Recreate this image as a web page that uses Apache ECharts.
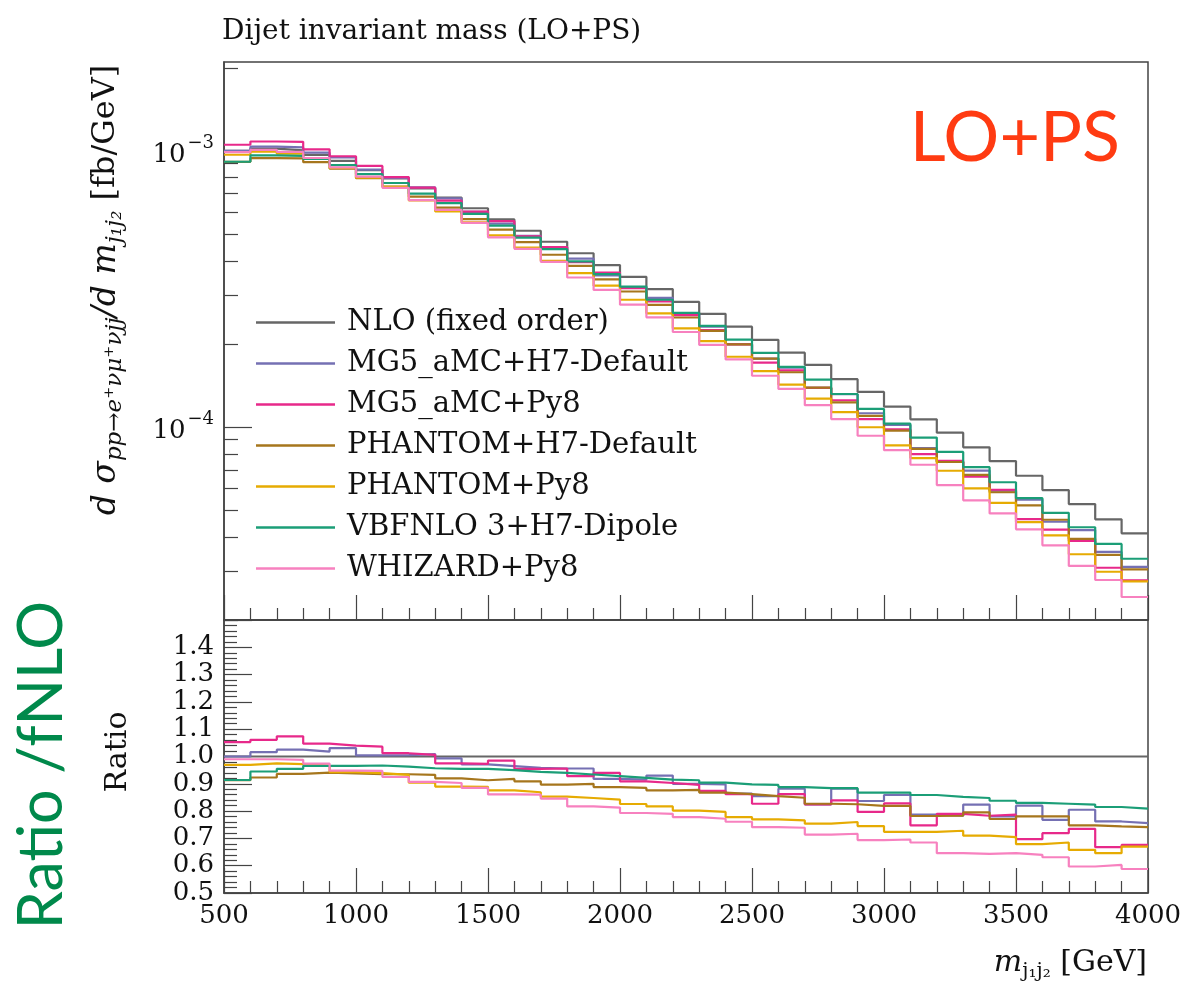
<!DOCTYPE html>
<html>
<head>
<meta charset="utf-8">
<title>Dijet invariant mass (LO+PS)</title>
<script src="https://cdn.jsdelivr.net/npm/echarts@6/dist/echarts.min.js"></script>
<style>
  html, body { margin: 0; padding: 0; background: #fff; }
  #chart { width: 1187px; height: 989px; }
</style>
</head>
<body>
<div id="chart"></div>
<script>
// 100 GeV bins, low edges
const binLow = [500, 600, 700, 800, 900, 1000, 1100, 1200, 1300, 1400,
  1500, 1600, 1700, 1800, 1900, 2000, 2100, 2200, 2300, 2400,
  2500, 2600, 2700, 2800, 2900, 3000, 3100, 3200, 3300, 3400,
  3500, 3600, 3700, 3800, 3900]
const binEnd = 4000

// NLO fixed order, fb/GeV (upper panel)
const nlo = [1.00e-3, 1.02e-3, 1.005e-3, 9.68e-4, 9.20e-4, 8.52e-4, 7.95e-4, 7.32e-4, 6.78e-4, 6.20e-4,
  5.65e-4, 5.14e-4, 4.69e-4, 4.26e-4, 3.86e-4, 3.50e-4, 3.16e-4, 2.84e-4, 2.57e-4, 2.31e-4,
  2.07e-4, 1.86e-4, 1.68e-4, 1.49e-4, 1.34e-4, 1.185e-4, 1.066e-4, 9.54e-5, 8.44e-5, 7.53e-5,
  6.66e-5, 5.91e-5, 5.26e-5, 4.63e-5, 4.12e-5]

// ratio to fixed-order NLO (lower panel)
const ratioMgH7 = [1.000, 1.016, 1.025, 1.018, 1.031, 1.004, 1.005, 1.009, 0.993, 0.971,
  0.965, 0.958, 0.956, 0.956, 0.918, 0.915, 0.930, 0.900, 0.898, 0.864,
  0.855, 0.882, 0.825, 0.882, 0.837, 0.859, 0.787, 0.783, 0.824, 0.781,
  0.820, 0.768, 0.805, 0.762, 0.756]
const ratioMgPy8 = [1.053, 1.061, 1.074, 1.047, 1.040, 1.036, 1.012, 1.006, 0.975, 0.973,
  0.985, 0.955, 0.956, 0.928, 0.940, 0.909, 0.903, 0.896, 0.874, 0.862,
  0.827, 0.862, 0.825, 0.839, 0.797, 0.828, 0.748, 0.790, 0.783, 0.787,
  0.697, 0.719, 0.735, 0.668, 0.676]
const ratioPhH7 = [0.913, 0.923, 0.936, 0.941, 0.938, 0.935, 0.935, 0.933, 0.920, 0.913,
  0.918, 0.909, 0.897, 0.900, 0.888, 0.885, 0.876, 0.878, 0.868, 0.862,
  0.855, 0.849, 0.827, 0.825, 0.819, 0.819, 0.782, 0.783, 0.795, 0.771,
  0.781, 0.781, 0.748, 0.744, 0.741]
const ratioPhPy8 = [0.969, 0.975, 0.972, 0.967, 0.943, 0.939, 0.933, 0.904, 0.890, 0.889,
  0.876, 0.869, 0.853, 0.848, 0.842, 0.826, 0.817, 0.802, 0.797, 0.778,
  0.770, 0.766, 0.754, 0.760, 0.745, 0.724, 0.724, 0.728, 0.710, 0.705,
  0.679, 0.685, 0.658, 0.646, 0.670]
const ratioVbf = [0.914, 0.945, 0.955, 0.966, 0.966, 0.967, 0.963, 0.957, 0.955, 0.955,
  0.950, 0.944, 0.940, 0.934, 0.928, 0.922, 0.915, 0.913, 0.904, 0.898,
  0.896, 0.888, 0.884, 0.884, 0.868, 0.868, 0.859, 0.852, 0.848, 0.838,
  0.830, 0.827, 0.824, 0.815, 0.809]
const ratioWhz = [0.990, 0.990, 0.988, 0.974, 0.948, 0.947, 0.925, 0.907, 0.903, 0.885,
  0.861, 0.860, 0.846, 0.817, 0.813, 0.793, 0.790, 0.778, 0.772, 0.761,
  0.741, 0.739, 0.714, 0.717, 0.694, 0.696, 0.685, 0.646, 0.643, 0.646,
  0.640, 0.631, 0.597, 0.603, 0.588]
const ratioNlo = nlo.map(() => 1)

const names = ['NLO (fixed order)', 'MG5_aMC+H7-Default', 'MG5_aMC+Py8', 'PHANTOM+H7-Default',
  'PHANTOM+Py8', 'VBFNLO 3+H7-Dipole', 'WHIZARD+Py8']
const colors = ['#666666', '#7570b3', '#e7298a', '#a6761d', '#e6ab02', '#1b9e77', '#f781bf']
const ratios = [ratioNlo, ratioMgH7, ratioMgPy8, ratioPhH7, ratioPhPy8, ratioVbf, ratioWhz]

// axis ticks
const xTicks = [500, 1000, 1500, 2000, 2500, 3000, 3500, 4000]
const yMajor = [1e-4, 1e-3]
const yMinor = [2e-5, 3e-5, 4e-5, 5e-5, 6e-5, 7e-5, 8e-5, 9e-5,
  2e-4, 3e-4, 4e-4, 5e-4, 6e-4, 7e-4, 8e-4, 9e-4, 2e-3]

const SERIF = "'DejaVu Serif', 'Liberation Serif', serif"
const SANS = "Lato, 'Open Sans', sans-serif"

const chart = echarts.init(document.getElementById('chart'), null, { renderer: 'canvas' })

// histogram as step line: value held over [low, high)
const stepData = vals => {
  const d = binLow.map((x, i) => [x, vals[i]])
  d.push([binEnd, vals[vals.length - 1]])
  return d
}

const topSeries = names.map((name, k) => ({
  name,
  type: 'line',
  step: 'end',
  xAxisIndex: 0,
  yAxisIndex: 0,
  symbol: 'none',
  color: colors[k],
  lineStyle: { width: 2.2, color: colors[k] },
  data: stepData(nlo.map((v, i) => v * ratios[k][i])),
  z: 2 + k
}))

const ratioSeries = names.map((name, k) => ({
  name,
  type: 'line',
  step: 'end',
  xAxisIndex: 1,
  yAxisIndex: 2,
  symbol: 'none',
  color: colors[k],
  lineStyle: { width: 2.2, color: colors[k] },
  data: stepData(ratios[k]),
  z: 2 + k
}))

const frame = { color: '#444', width: 1.5 }
const tickStyle = { color: '#444', width: 1.2 }

const xAxisBase = {
  type: 'value',
  min: 500,
  max: 4000,
  interval: 500,
  axisLine: { show: true, lineStyle: frame },
  axisTick: { show: true, inside: true, length: 25, lineStyle: tickStyle },
  minorTick: { show: true, splitNumber: 5, length: 12, lineStyle: tickStyle },
  splitLine: { show: false },
  minorSplitLine: { show: false }
}

const option = {
  animation: false,
  backgroundColor: '#fff',
  grid: [
    { left: 224, top: 62, width: 924, height: 558, show: true, borderColor: '#444', borderWidth: 1.5 },
    { left: 224, top: 620, width: 924, height: 273, show: true, borderColor: '#444', borderWidth: 1.5 }
  ],
  legend: {
    data: names,
    orient: 'vertical',
    left: 251,
    top: 302,
    icon: 'rect',
    itemWidth: 79,
    itemHeight: 2.5,
    itemGap: 10,
    itemStyle: { borderWidth: 0 },
    textStyle: { fontFamily: SERIF, fontSize: 29, color: '#111', lineHeight: 31, padding: [0, 0, 0, 7] }
  },
  xAxis: [
    { ...xAxisBase, gridIndex: 0, axisLabel: { show: false } },
    {
      ...xAxisBase,
      gridIndex: 1,
      axisLabel: {
        show: true,
        margin: 10,
        fontFamily: SERIF,
        fontSize: 26,
        color: '#111',
        customValues: xTicks,
        formatter: v => String(v)
      }
    }
  ],
  yAxis: [
    {
      type: 'log',
      logBase: 10,
      gridIndex: 0,
      position: 'left',
      min: 2e-5,
      max: 2.1e-3,
      axisLine: { show: true, lineStyle: frame },
      axisTick: { show: true, inside: true, length: 28, customValues: yMajor, lineStyle: tickStyle },
      axisLabel: {
        show: true,
        margin: 10,
        customValues: yMajor,
        formatter: v => '{a|10}{b|\u2212' + Math.abs(Math.round(Math.log10(v))) + '}',
        rich: {
          a: { fontFamily: SERIF, fontSize: 26, color: '#111', lineHeight: 34, verticalAlign: 'bottom' },
          b: { fontFamily: SERIF, fontSize: 18, color: '#111', lineHeight: 34, verticalAlign: 'top', padding: [0, 0, 0, 2] }
        }
      },
      splitLine: { show: false }
    },
    {
      type: 'log',
      logBase: 10,
      gridIndex: 0,
      position: 'left',
      min: 2e-5,
      max: 2.1e-3,
      axisLine: { show: false },
      axisTick: { show: true, inside: true, length: 14, customValues: yMinor, lineStyle: tickStyle },
      axisLabel: { show: false },
      splitLine: { show: false }
    },
    {
      type: 'value',
      gridIndex: 1,
      min: 0.5,
      max: 1.5,
      interval: 0.1,
      axisLine: { show: true, lineStyle: frame },
      axisTick: { show: true, inside: true, length: 28, lineStyle: tickStyle },
      minorTick: { show: true, splitNumber: 5, length: 13, lineStyle: tickStyle },
      axisLabel: {
        show: true,
        margin: 10,
        fontFamily: SERIF,
        fontSize: 26,
        color: '#111',
        formatter: v => (v > 1.45 ? '' : v.toFixed(1))
      },
      splitLine: { show: false },
      minorSplitLine: { show: false }
    }
  ],
  graphic: [
    {
      type: 'text', x: 222, y: 32,
      style: { text: 'Dijet invariant mass (LO+PS)', font: '28px ' + SERIF, fill: '#111', verticalAlign: 'middle' }
    },
    {
      type: 'text', x: 1120, y: 138,
      style: { text: 'LO+PS', font: '70px ' + SANS, fill: '#ff3b12', align: 'right', verticalAlign: 'middle' }
    },
    {
      type: 'text', x: 42, y: 765, rotation: Math.PI / 2,
      style: { text: 'Ratio /fNLO', font: '61px ' + SANS, fill: '#00894b', align: 'center', verticalAlign: 'middle' }
    },
    {
      type: 'text', x: 118, y: 752, rotation: Math.PI / 2,
      style: { text: 'Ratio', font: '30px ' + SERIF, fill: '#111', align: 'center', verticalAlign: 'middle' }
    },
    {
      type: 'text', x: 106, y: 290, rotation: Math.PI / 2,
      style: {
        text: '{i|d \u03c3}{s|pp\u2192e\u207a\u03bd\u03bc\u207a\u03bdjj}{i|/d m}{s|j\u2081j\u2082}{n| [fb/GeV]}',
        align: 'center',
        verticalAlign: 'middle',
        rich: {
          i: { fontFamily: SERIF, fontStyle: 'italic', fontSize: 33, fill: '#111', lineHeight: 42 },
          s: { fontFamily: SERIF, fontStyle: 'italic', fontSize: 23, fill: '#111', lineHeight: 42, verticalAlign: 'bottom' },
          n: { fontFamily: SERIF, fontSize: 32, fill: '#111', lineHeight: 42 }
        }
      }
    },
    {
      type: 'text', x: 1147, y: 963,
      style: {
        text: '{i|m}{s|j\u2081j\u2082}{n| [GeV]}',
        align: 'right',
        verticalAlign: 'middle',
        rich: {
          i: { fontFamily: SERIF, fontStyle: 'italic', fontSize: 30, fill: '#111', lineHeight: 38 },
          s: { fontFamily: SERIF, fontSize: 20, fill: '#111', lineHeight: 38, verticalAlign: 'bottom' },
          n: { fontFamily: SERIF, fontSize: 30, fill: '#111', lineHeight: 38 }
        }
      }
    }
  ],
  series: [...topSeries, ...ratioSeries]
}

chart.setOption(option)
window.addEventListener('resize', () => chart.resize())
</script>
</body>
</html>
